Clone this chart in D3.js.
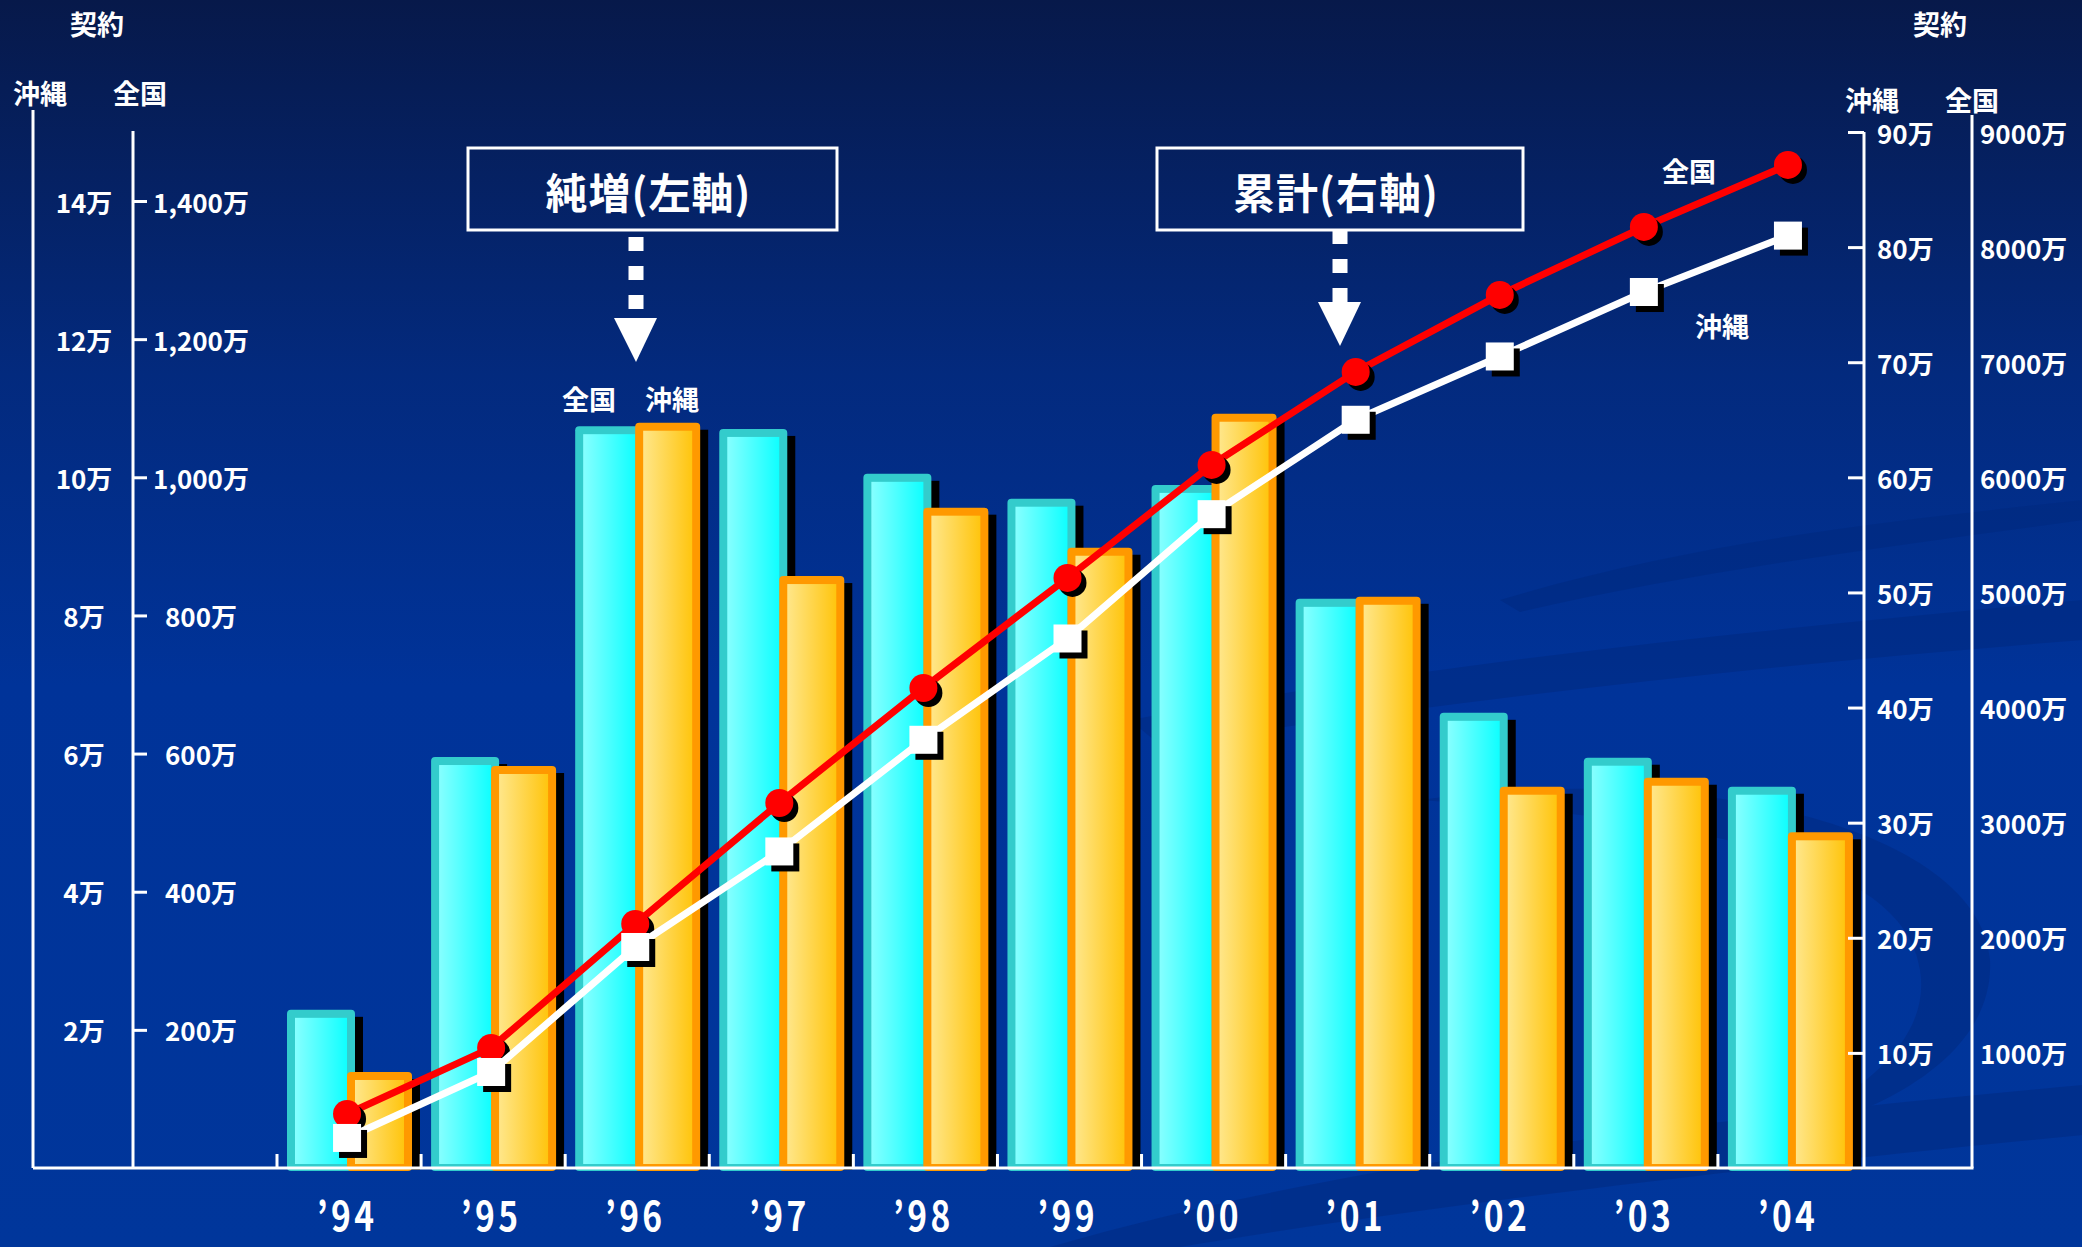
<!DOCTYPE html>
<html>
<head>
<meta charset="utf-8">
<script src="https://cdn.jsdelivr.net/npm/d3@7"></script>
<style>
  html, body { margin: 0; padding: 0; background: #fff; }
  svg { display: block; }
  text { font-family: "Noto Sans CJK JP", "Noto Sans", sans-serif; font-weight: bold; fill: #fff; }
</style>
</head>
<body>
<script>
// ---------------- data ----------------
const categories = ["94", "95", "96", "97", "98", "99", "00", "01", "02", "03", "04"];
const yearLabels = ["’94", "’95", "’96", "’97", "’98", "’99", "’00", "’01", "’02", "’03", "’04"];
// 純増 (left axis)
const zenkokuNet = [229, 595, 1074, 1070, 1005, 969, 989, 824, 659, 594, 552];          // 全国, 万契約
const okinawaNet = [1.39, 5.82, 10.79, 8.57, 9.56, 8.98, 10.92, 8.27, 5.52, 5.65, 4.86]; // 沖縄, 万契約
// 累計 (right axis)
const zenkokuCum = [469, 1043, 2120, 3171, 4170, 5126, 6108, 6916, 7585, 8175, 8714];    // 全国, 万契約
const okinawaCum = [2.61, 8.34, 19.2, 27.5, 37.2, 46.0, 56.8, 65.0, 70.5, 76.1, 81.0];    // 沖縄, 万契約
// tick values / labels
const leftOkiTicks = [2, 4, 6, 8, 10, 12, 14];
const leftOkiLabels = ["2万", "4万", "6万", "8万", "10万", "12万", "14万"];
const leftNatLabels = ["200万", "400万", "600万", "800万", "1,000万", "1,200万", "1,400万"];
const rightOkiTicks = [10, 20, 30, 40, 50, 60, 70, 80, 90];
const rightOkiLabels = ["10万", "20万", "30万", "40万", "50万", "60万", "70万", "80万", "90万"];
const rightNatLabels = ["1000万", "2000万", "3000万", "4000万", "5000万", "6000万", "7000万", "8000万", "9000万"];

// ---------------- layout ----------------
const W = 2087, H = 1247;
const base = 1168;
const svg = d3.select("body").append("svg").attr("width", W).attr("height", H);
const defs = svg.append("defs");

const bg = defs.append("linearGradient").attr("id", "bg").attr("x1", 0).attr("y1", 0).attr("x2", 0).attr("y2", 1);
bg.append("stop").attr("offset", "0").attr("stop-color", "#07194a");
bg.append("stop").attr("offset", "0.3").attr("stop-color", "#032a7e");
bg.append("stop").attr("offset", "0.55").attr("stop-color", "#003399");
bg.append("stop").attr("offset", "1").attr("stop-color", "#00369b");

const gc = defs.append("linearGradient").attr("id", "gCyan").attr("x1", 0).attr("y1", 0).attr("x2", 1).attr("y2", 0);
gc.append("stop").attr("offset", "0").attr("stop-color", "#86ffff");
gc.append("stop").attr("offset", "1").attr("stop-color", "#10ffff");
const go = defs.append("linearGradient").attr("id", "gOrange").attr("x1", 0).attr("y1", 0).attr("x2", 1).attr("y2", 0);
go.append("stop").attr("offset", "0").attr("stop-color", "#ffe689");
go.append("stop").attr("offset", "1").attr("stop-color", "#ffc50f");

svg.append("rect").attr("width", W).attr("height", H).attr("fill", "url(#bg)");

// decorative swooshes
const deco = svg.append("g").attr("fill", "#00287c").attr("opacity", 0.45);
deco.append("path").attr("d", "M1050 1247 C1350 1160 1700 1120 2083 1085 L2083 1135 C1720 1170 1400 1210 1180 1247 Z");
deco.append("path").attr("d", "M1130 720 C1450 660 1760 630 2083 600 L2083 640 C1760 665 1460 700 1160 745 Z");
deco.append("path").attr("d", "M1420 800 C1700 760 1980 830 1990 960 C1995 1060 1870 1120 1760 1140 C1880 1090 1930 1030 1920 970 C1905 860 1700 820 1420 800 Z");
deco.append("path").attr("d", "M1500 600 C1700 540 1900 520 2083 500 L2083 520 C1900 545 1700 570 1520 612 Z");
svg.append("rect").attr("x", 2082).attr("y", 0).attr("width", 5).attr("height", H).attr("fill", "#ffffff");

// ---------------- scales ----------------
const x = d3.scaleBand().domain(categories).range([277, 1862]).padding(0);
const bw = x.bandwidth();
const yOki = d3.scaleLinear().domain([0, 14]).range([base, 201]);
const yNat = d3.scaleLinear().domain([0, 1400]).range([base, 201]);
const yOkiCum = d3.scaleLinear().domain([0, 90]).range([base, 132]);
const yNatCum = d3.scaleLinear().domain([0, 9000]).range([base, 132]);

// ---------------- bars ----------------
function drawBar(g, x0, w, top, border, fillId) {
  g.append("rect").attr("x", x0 + 8).attr("y", top + 7).attr("width", w).attr("height", base + 2 - top - 7).attr("fill", "#000");
  g.append("rect").attr("x", x0).attr("y", top).attr("width", w).attr("height", base + 3 - top).attr("rx", 4).attr("fill", border);
  g.append("rect").attr("x", x0 + 8).attr("y", top + 8).attr("width", w - 16).attr("height", Math.max(0, base - 4 - top - 8)).attr("fill", `url(#${fillId})`);
}
const barsG = svg.append("g");
categories.forEach((c, i) => {
  const bx = x(c);
  drawBar(barsG, bx + 10, 68, yNat(zenkokuNet[i]), "#33cccc", "gCyan");
  drawBar(barsG, bx + 70, 65, yOki(okinawaNet[i]), "#ff9900", "gOrange");
});

// ---------------- axes ----------------
const ax = svg.append("g").attr("stroke", "#fff").attr("stroke-width", 3).attr("fill", "none");
ax.append("line").attr("x1", 33).attr("x2", 33).attr("y1", 110).attr("y2", base);
ax.append("line").attr("x1", 133).attr("x2", 133).attr("y1", 131).attr("y2", base);
ax.append("line").attr("x1", 1864).attr("x2", 1864).attr("y1", 132).attr("y2", base);
ax.append("line").attr("x1", 1972).attr("x2", 1972).attr("y1", 115).attr("y2", base);
ax.append("line").attr("x1", 33).attr("x2", 1973.5).attr("y1", base).attr("y2", base);

// left tick marks via d3 axis
const leftAxis = svg.append("g").attr("transform", "translate(133,0)")
  .call(d3.axisRight(yOki).tickValues(leftOkiTicks).tickSize(14).tickSizeOuter(0).tickFormat(""));
leftAxis.select(".domain").remove();
leftAxis.selectAll(".tick line").attr("stroke", "#fff").attr("stroke-width", 3);

const rightAxis = svg.append("g").attr("transform", "translate(1864,0)")
  .call(d3.axisLeft(yOkiCum).tickValues(rightOkiTicks).tickSize(16).tickSizeOuter(0).tickFormat(""));
rightAxis.select(".domain").remove();
rightAxis.selectAll(".tick line").attr("stroke", "#fff").attr("stroke-width", 3);

// category tick marks
const catTicks = svg.append("g").attr("stroke", "#fff").attr("stroke-width", 3);
categories.forEach(c => {
  catTicks.append("line").attr("x1", x(c)).attr("x2", x(c)).attr("y1", base - 14).attr("y2", base);
});

// tick labels
const tl = svg.append("g").attr("font-size", 26);
leftOkiTicks.forEach((v, i) => {
  tl.append("text").attr("x", 84).attr("y", yOki(v)).attr("text-anchor", "middle").attr("dominant-baseline", "central").text(leftOkiLabels[i]);
  tl.append("text").attr("x", 201).attr("y", yNat(v * 100)).attr("text-anchor", "middle").attr("dominant-baseline", "central").text(leftNatLabels[i]);
});
rightOkiTicks.forEach((v, i) => {
  tl.append("text").attr("x", 1877).attr("y", yOkiCum(v)).attr("dominant-baseline", "central").text(rightOkiLabels[i]);
  tl.append("text").attr("x", 1980).attr("y", yNatCum(v * 100)).attr("dominant-baseline", "central").text(rightNatLabels[i]);
});

// axis titles
const at = svg.append("g").attr("font-size", 27).attr("text-anchor", "middle").attr("dominant-baseline", "central");
at.append("text").attr("x", 97).attr("y", 23).text("契約");
at.append("text").attr("x", 40).attr("y", 92).text("沖縄");
at.append("text").attr("x", 140).attr("y", 92).text("全国");
at.append("text").attr("x", 1940).attr("y", 23).text("契約");
at.append("text").attr("x", 1872).attr("y", 99).text("沖縄");
at.append("text").attr("x", 1972).attr("y", 99).text("全国");

// year labels
const yl = svg.append("g");
categories.forEach((c, i) => {
  yl.append("text")
    .attr("transform", `translate(${x(c) + bw / 2 - 2},1231) scale(0.84,1)`)
    .attr("text-anchor", "middle")
    .attr("font-family", "'Liberation Sans', Arial, sans-serif")
    .attr("font-size", 40)
    .attr("letter-spacing", 4)
    .text(yearLabels[i]);
});

// ---------------- lines ----------------
const cx = c => x(c) + bw / 2 - 2;
const natLine = d3.line().x((d, i) => cx(categories[i])).y(d => yNatCum(d));
const okiLine = d3.line().x((d, i) => cx(categories[i])).y(d => yOkiCum(d));

const redG = svg.append("g");
redG.append("path").attr("d", natLine(zenkokuCum)).attr("fill", "none").attr("stroke", "#ff0000").attr("stroke-width", 7).attr("stroke-linejoin", "round");
zenkokuCum.forEach((v, i) => {
  redG.append("circle").attr("cx", cx(categories[i]) + 5).attr("cy", yNatCum(v) + 5).attr("r", 14).attr("fill", "#000");
  redG.append("circle").attr("cx", cx(categories[i])).attr("cy", yNatCum(v)).attr("r", 14).attr("fill", "#ff0000");
});
const whiteG = svg.append("g");
whiteG.append("path").attr("d", okiLine(okinawaCum)).attr("fill", "none").attr("stroke", "#ffffff").attr("stroke-width", 7).attr("stroke-linejoin", "round");
okinawaCum.forEach((v, i) => {
  whiteG.append("rect").attr("x", cx(categories[i]) - 14 + 6).attr("y", yOkiCum(v) - 14 + 6).attr("width", 28).attr("height", 28).attr("fill", "#000");
  whiteG.append("rect").attr("x", cx(categories[i]) - 14).attr("y", yOkiCum(v) - 14).attr("width", 28).attr("height", 28).attr("fill", "#fff");
});

// series labels
const sl = svg.append("g").attr("font-size", 27).attr("text-anchor", "middle").attr("dominant-baseline", "central");
sl.append("text").attr("x", 589).attr("y", 398).text("全国");
sl.append("text").attr("x", 672).attr("y", 398).text("沖縄");
sl.append("text").attr("x", 1689).attr("y", 170).text("全国");
sl.append("text").attr("x", 1722).attr("y", 325).text("沖縄");

// ---------------- callouts ----------------
function callout(bx, by, bwid, bh, label, ax0, dashTop, triTop) {
  const g = svg.append("g");
  g.append("rect").attr("x", bx).attr("y", by).attr("width", bwid).attr("height", bh).attr("fill", "none").attr("stroke", "#fff").attr("stroke-width", 3);
  g.append("text").attr("x", bx + bwid / 2 - 4).attr("y", by + bh / 2 + 1).attr("text-anchor", "middle").attr("dominant-baseline", "central").attr("font-size", 42).attr("font-weight", 500).attr("letter-spacing", 1).text(label);
  for (let k = 0; k < 3; k++) {
    g.append("rect").attr("x", ax0 - 7.5).attr("y", dashTop + k * 29).attr("width", 15).attr("height", 14).attr("fill", "#fff");
  }
  g.append("path").attr("d", `M${ax0 - 22},${triTop} L${ax0 + 21},${triTop} L${ax0},${triTop + 44} Z`).attr("fill", "#fff");
}
callout(468, 148, 369, 82, "純増(左軸)", 636, 237, 318);
callout(1157, 148, 366, 82, "累計(右軸)", 1340, 230, 302);
</script>
</body>
</html>
